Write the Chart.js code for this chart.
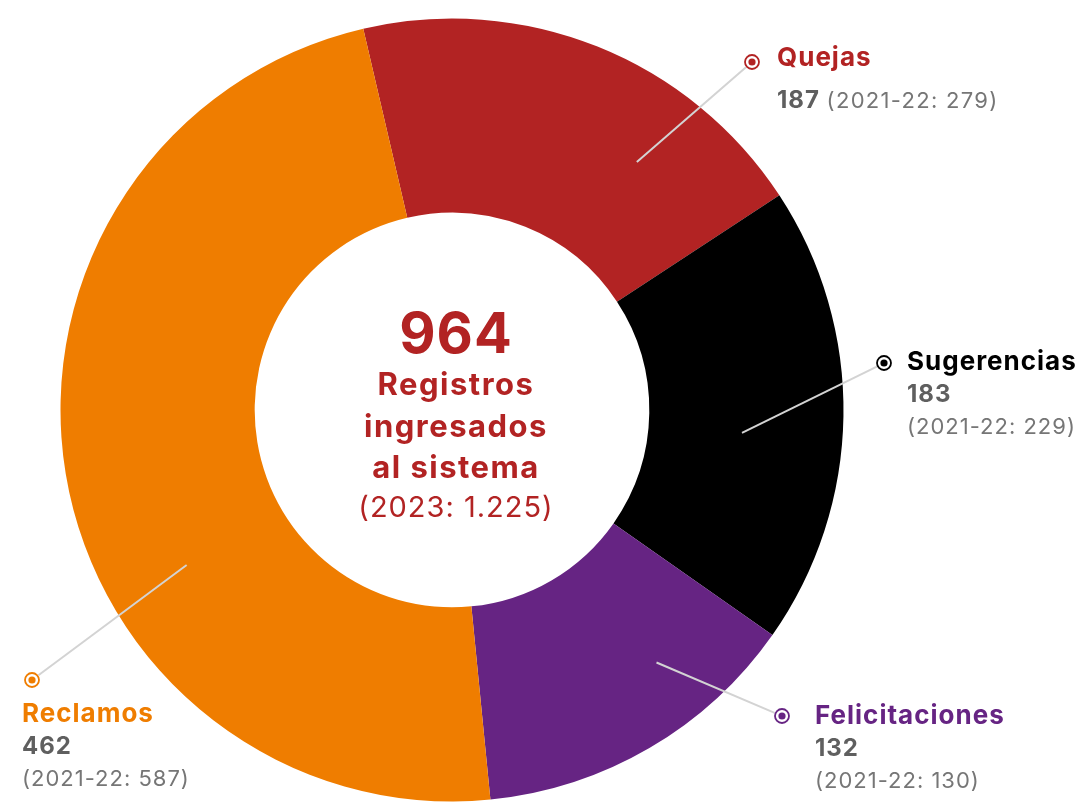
<!DOCTYPE html>
<html>
<head>
<meta charset="utf-8">
<script src="https://cdn.jsdelivr.net/npm/chart.js@4.4.0/dist/chart.umd.min.js"></script>
<style>
    html, body { margin: 0; padding: 0; background: #fff; }
    #wrap { width: 1088px; height: 803px; position: relative; }
</style>
</head>
<body>
<div id="wrap"><canvas id="donut"></canvas></div>
<script>
// data
var categories = ['Quejas', 'Sugerencias', 'Felicitaciones', 'Reclamos'];
var values2024 = [187, 183, 132, 462];
var values2122 = [279, 229, 130, 587];
var total = 964;
var totalPrev = '1.225';
var colors = ['#B22323', '#000000', '#662483', '#EF7D00'];

// label placement (relative to the doughnut centre), one per slice
var labelLayout = [
    { lineAngle: 36.7, lineR: 0.79, dot: [300, -348], text: [325, -352], split: false },
    { lineAngle: 94.5, lineR: 0.743, dot: [432, -47], text: [455, -48], split: true },
    { lineAngle: 141, lineR: 0.83, dot: [330, 306], text: [363, 306], split: true },
    { lineAngle: 239.7, lineR: 0.785, dot: [-420, 270], text: [-430, 304], split: true }
];

var FONT = 'Inter, "Open Sans", sans-serif';
var GREY = '#5f5f5f';

function setFont(ctx, font, spacing) {
    ctx.font = font;
    if ('letterSpacing' in ctx) ctx.letterSpacing = spacing + 'px';
}

var annotations = {
    id: 'annotations',
    afterDatasetsDraw: function(chart) {
        var ctx = chart.ctx;
        var arc0 = chart.getDatasetMeta(0).data[0];
        var cx = arc0.x, cy = arc0.y, R = arc0.outerRadius;
        ctx.save();

        labelLayout.forEach(function(l, i) {
            var a = (l.lineAngle - 90) * Math.PI / 180;
            var sx = cx + Math.cos(a) * R * l.lineR;
            var sy = cy + Math.sin(a) * R * l.lineR;
            var dx = cx + l.dot[0], dy = cy + l.dot[1];
            var ang = Math.atan2(dy - sy, dx - sx);

            // leader line
            ctx.strokeStyle = '#d3d3d3';
            ctx.lineWidth = 2;
            ctx.beginPath();
            ctx.moveTo(sx, sy);
            ctx.lineTo(dx - Math.cos(ang) * 8, dy - Math.sin(ang) * 8);
            ctx.stroke();

            // marker
            ctx.strokeStyle = colors[i];
            ctx.lineWidth = 1.8;
            ctx.beginPath();
            ctx.arc(dx, dy, 7, 0, Math.PI * 2);
            ctx.stroke();
            ctx.fillStyle = colors[i];
            ctx.beginPath();
            ctx.arc(dx, dy, 3.6, 0, Math.PI * 2);
            ctx.fill();

            // texts
            var tx = cx + l.text[0], ty = cy + l.text[1];
            ctx.textAlign = 'left';
            ctx.textBaseline = 'middle';
            ctx.fillStyle = colors[i];
            setFont(ctx, 'bold 26px ' + FONT, 1);
            ctx.fillText(categories[i], tx, ty);

            var prev = '(2021-22: ' + values2122[i] + ')';
            ctx.fillStyle = GREY;
            setFont(ctx, 'bold 24px ' + FONT, 1);
            if (l.split) {
                ctx.fillText(String(values2024[i]), tx, ty + 33);
                ctx.fillStyle = '#767676';
                setFont(ctx, '22px ' + FONT, 1);
                ctx.fillText(prev, tx, ty + 65);
            } else {
                var num = String(values2024[i]);
                ctx.fillText(num, tx, ty + 43);
                var w = ctx.measureText(num + ' ').width;
                ctx.fillStyle = '#767676';
                setFont(ctx, '22px ' + FONT, 1.3);
                ctx.fillText(prev, tx + w, ty + 43);
            }
        });

        // centre text
        ctx.textAlign = 'center';
        ctx.textBaseline = 'middle';
        ctx.fillStyle = '#B22323';
        setFont(ctx, 'bold 56px ' + FONT, 1);
        ctx.fillText(String(total), cx + 4, cy - 74);
        setFont(ctx, 'bold 31px ' + FONT, 1.5);
        ctx.fillText('Registros', cx + 4, cy - 24);
        ctx.fillText('ingresados', cx + 4, cy + 18);
        ctx.fillText('al sistema', cx + 4, cy + 59);
        setFont(ctx, '29px ' + FONT, 1);
        ctx.fillText('(2023: ' + totalPrev + ')', cx + 4, cy + 98);

        ctx.restore();
    }
};

new Chart(document.getElementById('donut').getContext('2d'), {
    type: 'doughnut',
    data: {
        labels: categories,
        datasets: [{
            data: values2024,
            backgroundColor: colors,
            borderWidth: 0
        }]
    },
    options: {
        responsive: true,
        maintainAspectRatio: false,
        animation: false,
        events: [],
        rotation: -13.1,
        cutout: '50.4%',
        layout: {
            padding: { left: 60.5, right: 244.5, top: 18.5, bottom: 1.5 }
        },
        plugins: {
            legend: { display: false },
            tooltip: { enabled: false }
        }
    },
    plugins: [annotations]
});
</script>
</body>
</html>
